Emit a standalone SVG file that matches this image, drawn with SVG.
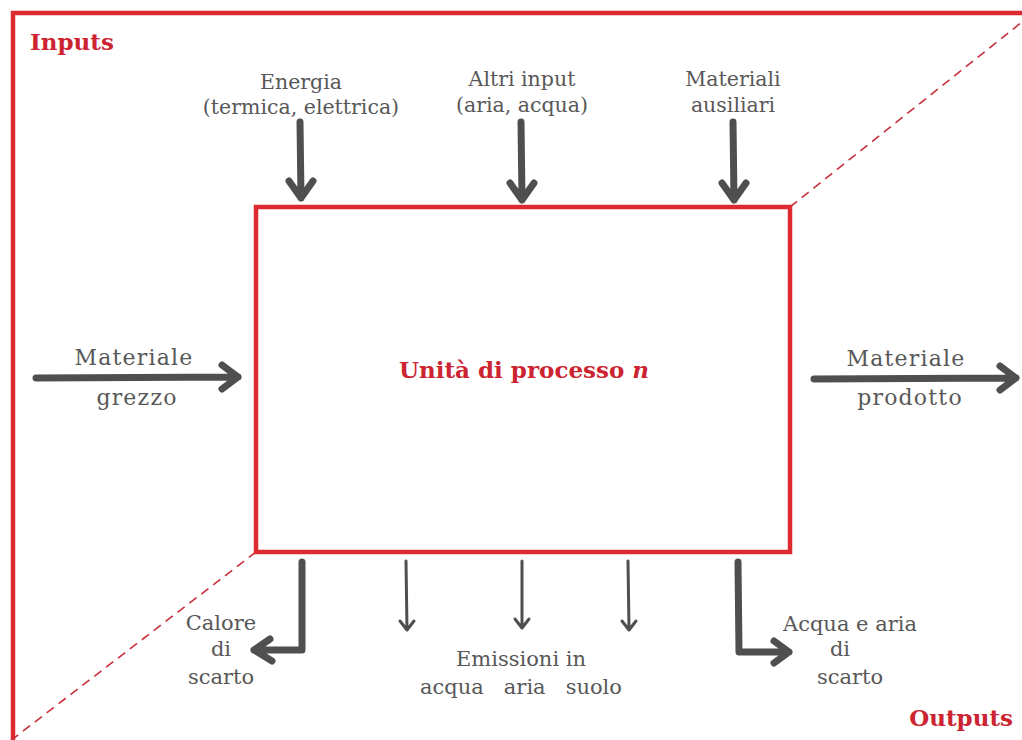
<svg xmlns="http://www.w3.org/2000/svg" width="1022" height="740" viewBox="0 0 1022 740">
  <style>
    .frame { fill: none; stroke: #dd2a30; stroke-width: 4.5; }
    .dash { fill: none; stroke: #c8303c; stroke-width: 1.6; stroke-dasharray: 9 6; }
    .flow { fill: none; stroke: #4f4f4f; stroke-width: 7; stroke-linecap: round; stroke-linejoin: round; }
    .thin { fill: none; stroke: #4f4f4f; stroke-width: 3; stroke-linecap: round; stroke-linejoin: round; }
    .lbl { font-family: "DejaVu Serif", "Liberation Serif", serif; font-size: 20.5px; fill: #585858; text-anchor: middle; }
    .low { font-size: 21px; }
    .big { font-size: 22px; letter-spacing: 1.2px; }
    .head { font-family: "DejaVu Serif", "Liberation Serif", serif; font-size: 23px; font-weight: bold; fill: #cc2431; }
  </style>

  <rect width="1022" height="740" fill="#ffffff"/>

  <!-- outer boundary and diagonal split -->
  <g id="boundary">
    <polyline class="frame" points="13,740 13,13 1022,13"/>
    <line class="dash" x1="790" y1="207" x2="1022" y2="22"/>
    <line class="dash" x1="256" y1="552" x2="14" y2="738"/>
  </g>

  <text id="inputs-title" class="head" x="30" y="50">Inputs</text>
  <text id="outputs-title" class="head" x="1013" y="726" text-anchor="end">Outputs</text>

  <!-- process unit -->
  <g id="process">
    <rect class="frame" x="256" y="207" width="534" height="345"/>
    <text class="head" x="524" y="378" text-anchor="middle">Unità di processo <tspan font-style="italic">n</tspan></text>
  </g>

  <!-- flows -->
  <g id="connectors">
    <!-- inputs from above -->
    <path class="flow" d="M300,122 L301,198 M289,181 L301,198 L313,181"/>
    <path class="flow" d="M521,122 L522,200 M510,183 L522,200 L534,183"/>
    <path class="flow" d="M733,122 L734,200 M722,183 L734,200 L746,183"/>
    <!-- main material line -->
    <path class="flow" d="M36,378 L238,377 M222,365 L238,377 L222,389"/>
    <path class="flow" d="M814,379 L1016,378 M1000,366 L1016,378 L1000,390"/>
    <!-- outputs below -->
    <path class="flow" d="M302,562 L302,650 L254,650 M270,639 L254,650 L272,661"/>
    <path class="flow" d="M738,562 L739,652 L789,652 M774,641 L789,652 L774,663"/>
    <path class="thin" d="M406,561 L407,629 M400,621 L407,630 L414,621"/>
    <path class="thin" d="M522,561 L522,627 M515,619 L522,628 L529,619"/>
    <path class="thin" d="M628,561 L629,629 M622,621 L629,630 L636,621"/>
  </g>

  <g id="energia">
    <text class="lbl" x="301" y="89">Energia</text>
    <text class="lbl" x="301" y="114">(termica, elettrica)</text>
  </g>
  <g id="altri-input">
    <text class="lbl" x="522" y="86">Altri input</text>
    <text class="lbl" x="522" y="112">(aria, acqua)</text>
  </g>
  <g id="materiali-ausiliari">
    <text class="lbl" x="733" y="86">Materiali</text>
    <text class="lbl" x="733" y="112">ausiliari</text>
  </g>
  <g id="materiale-grezzo">
    <text class="lbl big" x="134" y="365">Materiale</text>
    <text class="lbl big" x="137" y="405">grezzo</text>
  </g>
  <g id="materiale-prodotto">
    <text class="lbl big" x="906" y="366">Materiale</text>
    <text class="lbl big" x="910" y="405">prodotto</text>
  </g>
  <g id="calore-scarto">
    <text class="lbl low" x="221" y="630">Calore</text>
    <text class="lbl low" x="221" y="656">di</text>
    <text class="lbl low" x="221" y="684">scarto</text>
  </g>
  <g id="emissioni">
    <text class="lbl low" x="521" y="666">Emissioni in</text>
    <text class="lbl low" x="521" y="694" xml:space="preserve">acqua   aria   suolo</text>
  </g>
  <g id="acqua-aria-scarto">
    <text class="lbl low" x="850" y="631">Acqua e aria</text>
    <text class="lbl low" x="840" y="656">di</text>
    <text class="lbl low" x="850" y="684">scarto</text>
  </g>
</svg>
